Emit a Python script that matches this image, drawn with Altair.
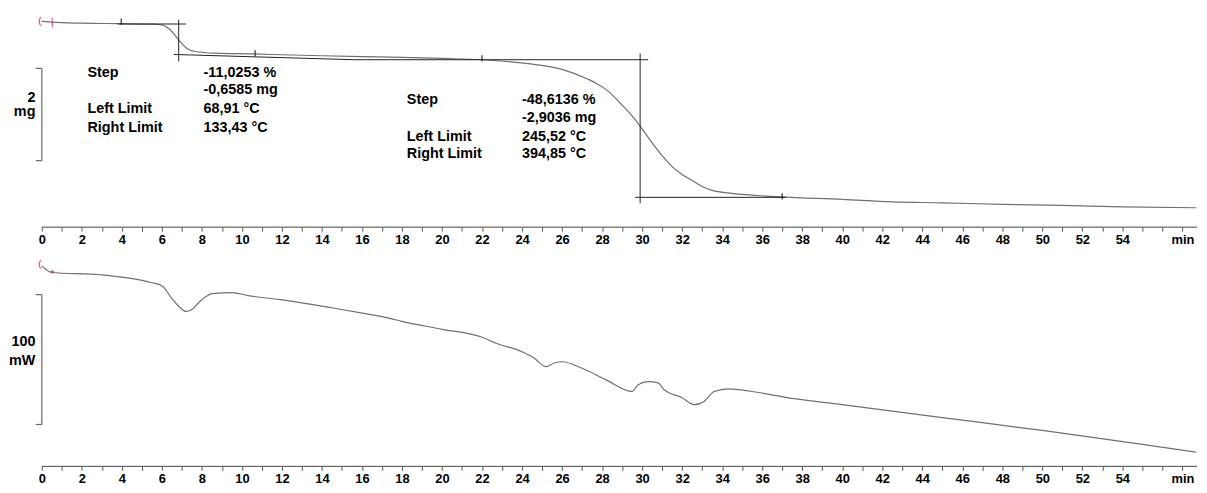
import altair as alt
import pandas as pd

# ---------------- data ----------------
# Top panel: TGA mass (mg) vs time (min)
tg_time = [0, 0.5, 2, 4, 5.5, 6.0, 6.43, 6.84, 7.24, 7.67, 8.66, 10.6, 12, 14, 16, 18, 20, 22,
           24.3, 26.0, 27.3, 27.7, 28.3, 29.0, 29.5, 30.0, 30.5, 31.0, 31.5, 32.0, 32.5, 33.0,
           33.5, 34.5, 36.9, 40, 42.5, 45, 48, 51, 54, 57.7]
tg_mass = [6.003, 5.981, 5.960, 5.949, 5.938, 5.921, 5.813, 5.598, 5.418, 5.347, 5.310, 5.293,
           5.276, 5.254, 5.235, 5.218, 5.196, 5.168, 5.082, 4.960, 4.745, 4.659, 4.487, 4.185,
           3.949, 3.669, 3.368, 3.089, 2.852, 2.680, 2.551, 2.422, 2.336, 2.272, 2.196, 2.142,
           2.089, 2.067, 2.035, 2.013, 1.981, 1.960]

# Bottom panel: DSC heat flow (mW) vs time (min)
dsc_time = [0, 0.5, 2.9, 5.5, 6.0, 6.5, 6.9, 7.2, 7.5, 7.8, 8.2, 8.5, 9.5, 10.3, 11.9, 14.4,
            16.1, 17.4, 18, 20, 22, 22.7, 24.0, 24.6, 25.2, 25.6, 26.0, 27.0, 28.2, 29.5, 29.8,
            30.3, 30.8, 31.1, 32.0, 32.6, 33.1, 33.6, 34.3, 35.9, 37.6, 40, 45, 50, 55, 57.7]
dsc_flow = [12.37, 7.25, 5.50, -0.61, -2.90, -12.82, -19.69, -22.75, -21.22, -16.64, -11.30,
            -9.01, -8.24, -10.53, -13.59, -19.69, -24.27, -28.09, -30.38, -36.49, -42.60, -47.18,
            -53.82, -58.63, -65.27, -62.44, -61.45, -66.49, -75.42, -84.35, -79.24, -76.72,
            -77.71, -83.05, -89.16, -94.50, -91.98, -84.35, -82.29, -85.34, -89.92, -94.50,
            -104.43, -114.35, -125.04, -131.15]

# Evaluation construction lines (top): start t, start mg, end t, end mg
seg_t1 = [3.8, 6.84, 6.6, 15.6, 29.9, 29.65]
seg_v1 = [5.942, 6.035, 5.282, 5.168, 5.304, 2.186]
seg_t2 = [7.2, 6.84, 15.6, 30.3, 29.9, 37.2]
seg_v2 = [5.942, 5.132, 5.168, 5.168, 2.056, 2.186]

# Limit markers on the TG curve
mark_t = [3.97, 10.66, 22.0, 37.0]
mark_v = [5.992, 5.304, 5.196, 2.207]

# Step evaluation texts
ann1_labels = ["Step", "", "Left Limit", "Right Limit"]
ann1_values = ["-11,0253 %", "-0,6585 mg", "68,91 °C", "133,43 °C"]
ann1_rows = [4.874, 4.508, 4.100, 3.691]
ann2_labels = ["Step", "", "Left Limit", "Right Limit"]
ann2_values = ["-48,6136 %", "-2,9036 mg", "245,52 °C", "394,85 °C"]
ann2_rows = [4.293, 3.906, 3.497, 3.132]

# ---------------- layout ----------------
X0, X1 = -1.69, 57.73
W = 1198
TOP_H, BOT_H = 219, 212
TG_DOM = [1.54, 6.25]
DSC_DOM = [-142, 20]
FONT = "Liberation Sans"

xscale = alt.Scale(domain=[X0, X1], nice=False, zero=False)
label_expr = ("datum.value == 57 ? 'min' : ((datum.value % 2 == 0 && datum.value <= 54) "
              "? datum.label : '')")
xaxis = alt.Axis(values=list(range(0, 58)), labelExpr=label_expr, title=None, domain=False,
                 grid=False, ticks=True, tickSize=4, tickColor="#555", tickWidth=1,
                 labelFont=FONT, labelFontWeight="bold", labelFontSize=13,
                 labelColor="black", labelPadding=2, labelOverlap=False, labelFlush=False)
X = alt.X("t:Q", scale=xscale, axis=xaxis)


def Y(dom):
    return alt.Y("v:Q", scale=alt.Scale(domain=dom, nice=False, zero=False), axis=None)


def base_layers(dom, bracket_lo, bracket_hi, unit_top, unit_bot, unit_v1, unit_v2,
                red_v1, red_v2, red2_char):
    axis_line = alt.Chart(pd.DataFrame({"t": [0], "t2": [X1], "v": [dom[0]]})).mark_rule(
        color="#444", strokeWidth=1).encode(x=X, x2="t2:Q", y=Y(dom))
    br = pd.DataFrame({"t": [0, -0.3, -0.3], "t2": [0, 0, 0],
                       "v": [bracket_lo, bracket_lo, bracket_hi],
                       "v2": [bracket_hi, bracket_lo, bracket_hi]})
    bracket = alt.Chart(br).mark_rule(color="#666", strokeWidth=1.2).encode(
        x=X, x2="t2:Q", y=Y(dom), y2="v2:Q")
    unit = alt.Chart(pd.DataFrame({"t": [-0.32, -0.32], "v": [unit_v1, unit_v2],
                                   "label": [unit_top, unit_bot]})).mark_text(
        align="right", baseline="middle", font=FONT, fontWeight="bold", fontSize=14.5,
        color="black").encode(x=X, y=Y(dom), text="label:N")
    red = alt.Chart(pd.DataFrame({"t": [-0.1, 0.52], "v": [red_v1, red_v2],
                                  "label": ["(", red2_char]})).mark_text(
        align="center", baseline="middle", font=FONT, fontSize=10, color="#e0201a").encode(
        x=X, y=Y(dom), text="label:N")
    return [axis_line, bracket, unit, red]


# ---------------- top panel (TG) ----------------
tg_df = pd.DataFrame({"t": tg_time, "v": tg_mass})
tg_line = alt.Chart(tg_df).mark_line(color="#707070", strokeWidth=1.2,
                                     interpolate="monotone").encode(
    x=X, y=Y(TG_DOM), order="t:Q")

segs = alt.Chart(pd.DataFrame({"t": seg_t1, "v": seg_v1, "t2": seg_t2, "v2": seg_v2})).mark_rule(
    color="#222", strokeWidth=1).encode(x=X, y=Y(TG_DOM), x2="t2:Q", y2="v2:Q")

marks = alt.Chart(pd.DataFrame({"t": mark_t, "v": mark_v})).mark_point(
    shape="M0,-1L0,1", size=40, color="#111", strokeWidth=1.5, filled=False).encode(
    x=X, y=Y(TG_DOM))


def ann(t_lab, t_val, labels, values, rows):
    df1 = pd.DataFrame({"t": [t_lab] * len(rows), "v": rows, "label": labels})
    df2 = pd.DataFrame({"t": [t_val] * len(rows), "v": rows, "label": values})
    style = dict(align="left", baseline="middle", font=FONT, fontWeight="bold", fontSize=14.5,
                 color="black")
    return [alt.Chart(df1).mark_text(**style).encode(x=X, y=Y(TG_DOM), text="label:N"),
            alt.Chart(df2).mark_text(**style).encode(x=X, y=Y(TG_DOM), text="label:N")]


top_layers = [tg_line, segs, marks] + ann(2.28, 8.08, ann1_labels, ann1_values, ann1_rows) \
    + ann(18.24, 24.0, ann2_labels, ann2_values, ann2_rows) \
    + base_layers(TG_DOM, 2.981, 4.981, "2", "mg", 4.336, 4.035, 6.013, 5.992, "|")
top = alt.layer(*top_layers).properties(width=W, height=TOP_H)

# ---------------- bottom panel (DSC) ----------------
dsc_df = pd.DataFrame({"t": dsc_time, "v": dsc_flow})
dsc_line = alt.Chart(dsc_df).mark_line(color="#707070", strokeWidth=1.2,
                                       interpolate="monotone").encode(
    x=X, y=Y(DSC_DOM), order="t:Q")
bot_layers = [dsc_line] + base_layers(DSC_DOM, -109.77, -9.77, "100", "mW", -46.4,
                                      -60.9, 13.5, 7.25, "+")
bottom = alt.layer(*bot_layers).properties(width=W, height=BOT_H)

chart = alt.vconcat(top, bottom, spacing=10).properties(padding=0, background="white") \
    .configure_view(stroke=None)

chart.save("out.html", embed_options={"renderer": "svg", "actions": False})
